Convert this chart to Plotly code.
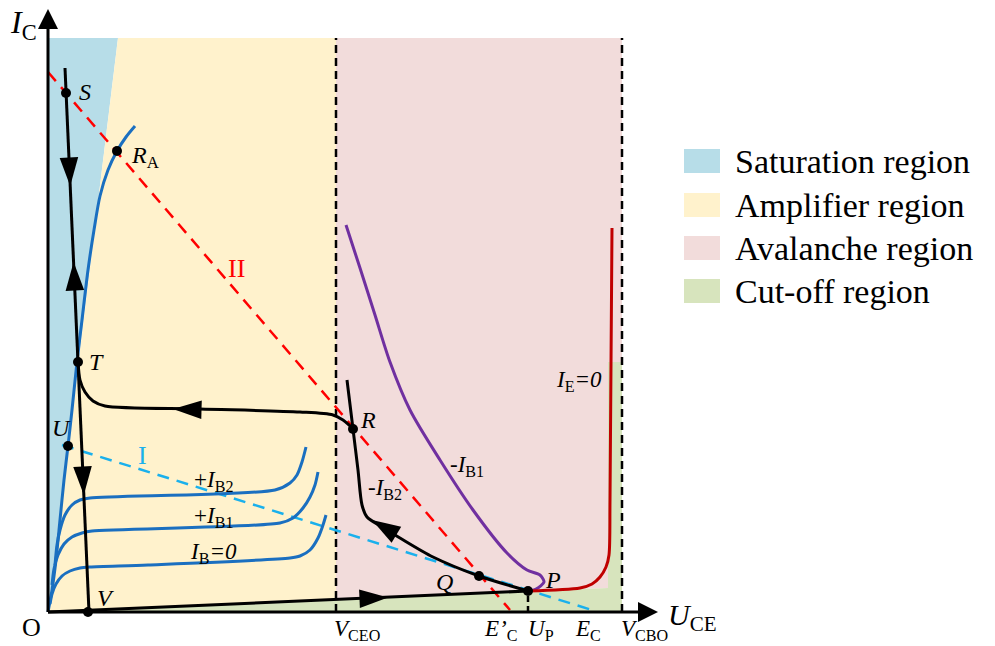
import math
import plotly.graph_objects as go

FONT = "Liberation Serif, Times New Roman, serif"

# ---------------- data (U_CE, I_C in arbitrary units) ----------------
region_names = ["Saturation region", "Amplifier region", "Avalanche region", "Cut-off region"]
region_colors = ["#b7dde8", "#fff2cc", "#f2dcdb", "#d7e4bd"]
sat_x = [0, 7.0, 0]
sat_y = [57.4, 57.4, 0]
amp_x = [7.0, 28.8, 28.8, 0]
amp_y = [57.4, 57.4, 1.2, 0]
ava_x = [28.8, 57.4, 57.4, 56.0, 56.0, 47.9, 28.8]
ava_y = [57.4, 57.4, 25.0, 25.0, 2.4, 2.1, 1.2]
cut_x = [0, 47.9, 56.0, 56.0, 57.4, 57.4]
cut_y = [0, 2.1, 2.4, 25.0, 25.0, 0]

# saturation characteristic
satc_x = [0, 0.4, 0.8, 1.2, 1.6, 2.0, 2.4, 2.9, 3.4, 4.0, 4.6, 5.2, 6.0, 6.9, 7.8, 8.7]
satc_y = [0, 2.2, 5.2, 9.2, 13.2, 16.6, 20.2, 25.0, 29.2, 34.2, 38.2, 41.6, 44.2, 46.1, 47.5, 48.6]
# output characteristics
ib0_x = [0.2, 0.4, 0.8, 1.4, 2.2, 3.2, 4.2, 10.0, 24.2, 25.2, 26.2, 27.0, 27.5, 27.8]
ib0_y = [0.8, 1.8, 2.8, 3.6, 4.1, 4.4, 4.5, 4.7, 5.4, 5.6, 6.2, 7.4, 8.7, 9.7]
ib1_x = [0.4, 0.6, 1.0, 1.6, 2.4, 3.4, 4.4, 23.2, 24.5, 25.5, 26.2, 26.7, 27.0]
ib1_y = [2.7, 4.3, 5.7, 6.8, 7.5, 7.9, 8.1, 8.9, 9.4, 10.4, 11.5, 12.7, 14.0]
ib2_x = [0.7, 0.9, 1.2, 1.7, 2.4, 3.2, 4.2, 22.7, 24.2, 24.9, 25.4, 25.8]
ib2_y = [4.7, 6.7, 8.2, 9.7, 10.7, 11.2, 11.4, 12.2, 12.9, 13.7, 15.0, 16.5]
# -IB1 (purple)
nib1_x = [29.8, 31.2, 32.7, 34.2, 36.2, 39.2, 42.5, 45.9, 47.9, 49.2, 49.6, 48.8, 48.0]
nib1_y = [38.7, 34.4, 29.7, 25.0, 20.2, 15.2, 10.2, 5.9, 4.2, 3.7, 3.0, 2.3, 2.1]
# IE = 0 (dark red)
ie0_x = [48.0, 53.2, 54.4, 55.2, 55.8, 56.1, 56.2, 56.4]
ie0_y = [2.1, 2.4, 2.8, 3.5, 4.5, 5.7, 11.2, 38.4]
# trajectory pieces (black)
vert_x = [1.7, 4.1]
vert_y = [54.4, 0]
horiz_x = [3.0, 3.2, 3.7, 4.5, 5.7, 15.2, 25.2, 28.5, 29.5, 30.1, 30.5]
horiz_y = [25.1, 23.2, 22.0, 21.1, 20.6, 20.3, 20.0, 19.7, 19.2, 18.7, 18.3]
nib2_x = [29.9, 30.5, 31.0, 31.4, 31.9, 33.4, 35.2, 38.5, 43.1, 48.0]
nib2_y = [23.2, 18.3, 14.2, 10.7, 9.5, 8.5, 7.4, 5.5, 3.6, 2.1]
base_x = [0, 48.0]
base_y = [0, 2.1]
# load lines
ll2_x = [0, 46.2]
ll2_y = [54.0, 0.2]
ll1_x = [1.4, 54.4]
ll1_y = [16.7, 0.2]
# vertical dashed boundaries
vceo_x = [28.8, 28.8]
vcbo_x = [57.4, 57.4]
vbound_y = [0, 57.4]
up_x = [48.0, 48.0]
up_y = [0, 2.1]
# marked points
pt_names = ["S", "T", "U", "V", "RA", "R", "Q", "P"]
pt_x = [1.8, 3.0, 2.0, 4.0, 6.9, 30.5, 43.1, 48.0]
pt_y = [51.9, 25.0, 16.6, 0.0, 46.1, 18.3, 3.6, 2.1]
# arrowheads: tip position and direction
arr_x = [2.22, 2.56, 3.58, 12.5, 32.4, 34.0]
arr_y = [42.6, 35.0, 11.7, 20.3, 9.2, 1.45]
arr_dx = [2.4, -2.4, 2.4, -23.0, -6.6, 48.0]
arr_dy = [-54.4, 54.4, -54.4, 0.6, 4.0, 2.1]
# axes
xaxis_end = 61.0
yaxis_end = 60.3

fig = go.Figure()

def poly(xs, ys, color, name):
    fig.add_trace(go.Scatter(x=xs, y=ys, fill="toself", fillcolor=color, mode="none",
                             name=name, hoverinfo="skip", showlegend=False))

poly(sat_x, sat_y, region_colors[0], region_names[0])
poly(amp_x, amp_y, region_colors[1], region_names[1])
poly(ava_x, ava_y, region_colors[2], region_names[2])
poly(cut_x, cut_y, region_colors[3], region_names[3])

def line(xs, ys, color, width=3, dash="solid", shape="spline"):
    fig.add_trace(go.Scatter(x=xs, y=ys, mode="lines",
                             line=dict(color=color, width=width, dash=dash, shape=shape, smoothing=0.8),
                             hoverinfo="skip", showlegend=False))

line(vceo_x, vbound_y, "black", 2.5, "8px,5px", "linear")
line(vcbo_x, vbound_y, "black", 2.5, "8px,5px", "linear")
line(up_x, up_y, "black", 2.5, "6px,4px", "linear")
line(ll2_x, ll2_y, "#ff0000", 2.5, "12px,8px", "linear")
line(ll1_x, ll1_y, "#1ab0ec", 2.5, "12px,8px", "linear")

line(satc_x, satc_y, "#1a6fc0", 3)
line(ib0_x, ib0_y, "#1a6fc0", 3)
line(ib1_x, ib1_y, "#1a6fc0", 3)
line(ib2_x, ib2_y, "#1a6fc0", 3)
line(nib1_x, nib1_y, "#7030a0", 3)
line(ie0_x, ie0_y, "#c00000", 3)

line(vert_x, vert_y, "black", 3, "solid", "linear")
line(horiz_x, horiz_y, "black", 3)
line(nib2_x, nib2_y, "black", 3)
line(base_x, base_y, "black", 3, "solid", "linear")

# axes
line([0, 0], [0, yaxis_end - 1.5], "black", 3, "solid", "linear")
line([0, xaxis_end - 1.5], [0, 0], "black", 3, "solid", "linear")
fig.add_trace(go.Scatter(x=[0, xaxis_end], y=[yaxis_end, 0], mode="markers",
                         marker=dict(symbol=["arrow-up", "arrow-right"], size=20, color="black",
                                     line=dict(width=0)),
                         hoverinfo="skip", showlegend=False))

# arrowheads on trajectory
angles = [math.degrees(math.atan2(dx, dy)) for dx, dy in zip(arr_dx, arr_dy)]
fig.add_trace(go.Scatter(x=arr_x, y=arr_y, mode="markers",
                         marker=dict(symbol="arrow", size=30, color="black", angle=angles,
                                     line=dict(width=0)),
                         hoverinfo="skip", showlegend=False))

# points
fig.add_trace(go.Scatter(x=pt_x, y=pt_y, mode="markers", text=pt_names,
                         marker=dict(size=10, color="black"), hoverinfo="skip", showlegend=False))

# ---------------- text ----------------
labels = [
    ("<i>I</i><sub>C</sub>", -2.5, 58.8, 32, "black"),
    ("O", -1.7, -1.5, 26, "black"),
    ("<i>S</i>", 3.7, 52.0, 24, "black"),
    ("<i>R</i><sub>A</sub>", 9.7, 45.5, 24, "black"),
    ("<i>T</i>", 4.8, 25.0, 24, "black"),
    ("<i>U</i>", 1.3, 18.4, 24, "black"),
    ("<i>V</i>", 5.7, 1.4, 24, "black"),
    ("<i>R</i>", 32.0, 19.2, 24, "black"),
    ("<i>Q</i>", 39.6, 3.0, 24, "black"),
    ("<i>P</i>", 50.5, 3.2, 24, "black"),
    ("II", 18.8, 34.4, 26, "#ff0000"),
    ("I", 9.4, 15.7, 26, "#1ab0ec"),
    ("+<i>I</i><sub>B2</sub>", 16.5, 13.1, 23, "black"),
    ("+<i>I</i><sub>B1</sub>", 16.5, 9.5, 23, "black"),
    ("<i>I</i><sub>B</sub><i>=0</i>", 16.5, 5.9, 23, "black"),
    ("-<i>I</i><sub>B1</sub>", 41.9, 14.6, 23, "black"),
    ("-<i>I</i><sub>B2</sub>", 33.7, 12.3, 23, "black"),
    ("<i>I</i><sub>E</sub><i>=0</i>", 53.1, 23.1, 23, "black"),
    ("<i>V</i><sub>CEO</sub>", 30.9, -1.8, 23, "black"),
    ("<i>E’</i><sub>C</sub>", 45.2, -1.8, 23, "black"),
    ("<i>U</i><sub>P</sub>", 49.3, -1.8, 23, "black"),
    ("<i>E</i><sub>C</sub>", 54.0, -1.8, 23, "black"),
    ("<i>V</i><sub>CBO</sub>", 59.6, -1.8, 23, "black"),
]
annotations = []
for t, x, y, s, c in labels:
    annotations.append(dict(text=t, x=x, y=y, xref="x", yref="y", showarrow=False,
                            xanchor="center", yanchor="middle",
                            font=dict(family=FONT, size=s, color=c)))
annotations.append(dict(text="<i>U</i><sub>CE</sub>", x=61.8, y=-0.5, xref="x", yref="y",
                        showarrow=False, xanchor="left", yanchor="middle",
                        font=dict(family=FONT, size=30, color="black")))

# legend (drawn)
leg_y = [45.1, 40.7, 36.4, 32.1]
shapes = []
for name, col, ly in zip(region_names, region_colors, leg_y):
    shapes.append(dict(type="rect", xref="x", yref="y", x0=63.6, x1=67.2, y0=ly - 1.2, y1=ly + 1.2,
                       fillcolor=col, line=dict(width=0), layer="above"))
    annotations.append(dict(text=name, x=68.5, y=ly, xref="x", yref="y", showarrow=False,
                            xanchor="left", yanchor="middle",
                            font=dict(family=FONT, size=34, color="black")))

fig.update_layout(
    width=995, height=646, autosize=False,
    margin=dict(l=0, r=0, t=0, b=0),
    paper_bgcolor="white", plot_bgcolor="white",
    xaxis=dict(range=[-4.8, 94.7], visible=False, fixedrange=True),
    yaxis=dict(range=[-3.4, 61.2], visible=False, fixedrange=True),
    annotations=annotations, shapes=shapes, showlegend=False,
)
fig.write_html("out.html")
